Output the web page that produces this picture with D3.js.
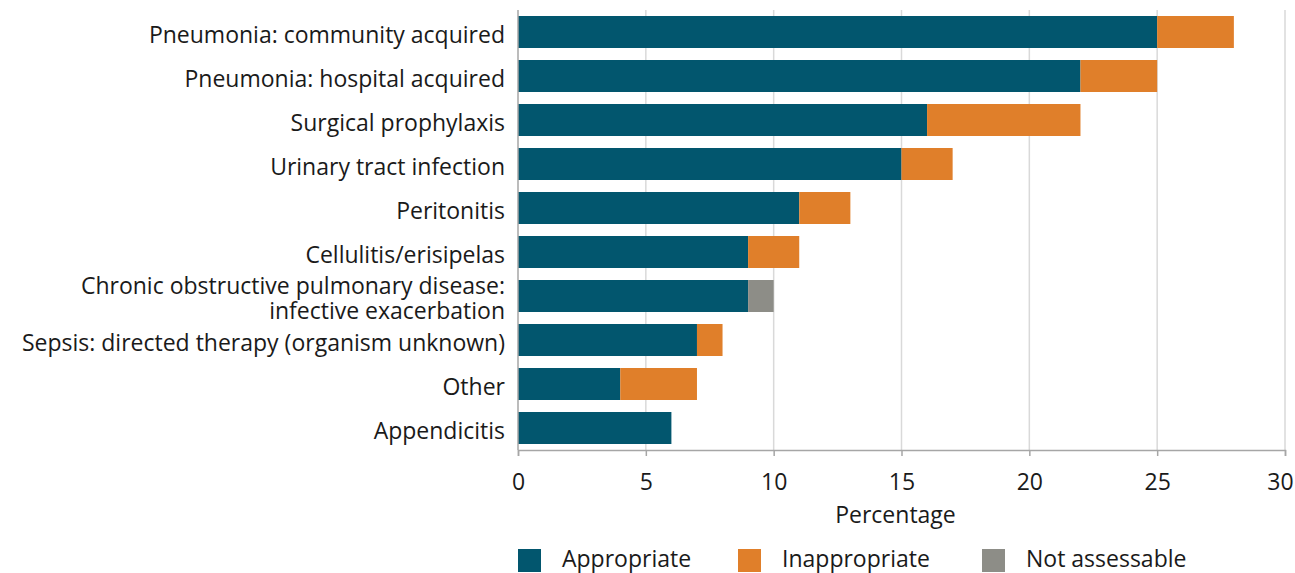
<!DOCTYPE html>
<html>
<head>
<meta charset="utf-8">
<script src="https://cdn.jsdelivr.net/npm/d3@7"></script>
<style>
  body { margin: 0; background: #fff; }
  text { font-family: "Open Sans", sans-serif; fill: #1a1a1a; }
</style>
</head>
<body>
<script>
var categories = [
  "Pneumonia: community acquired",
  "Pneumonia: hospital acquired",
  "Surgical prophylaxis",
  "Urinary tract infection",
  "Peritonitis",
  "Cellulitis/erisipelas",
  "Chronic obstructive pulmonary disease:|infective exacerbation",
  "Sepsis: directed therapy (organism unknown)",
  "Other",
  "Appendicitis"
];
var appropriate   = [25, 22, 16, 15, 11, 9, 9, 7, 4, 6];
var inappropriate = [3, 3, 6, 2, 2, 2, 0, 1, 3, 0];
var notAssessable = [0, 0, 0, 0, 0, 0, 1, 0, 0, 0];
var seriesNames = ["Appropriate", "Inappropriate", "Not assessable"];
var xTicks = [0, 5, 10, 15, 20, 25, 30];

var width = 1295, height = 573,
    mLeft = 518, mRight = 1285, mTop = 10, mBottom = 450,
    fontSize = 23;

var colors = ["#02566e", "#e07f2a", "#8d8d87"];

var rows = categories.map(function(c, i) {
  return { cat: c, Appropriate: appropriate[i], Inappropriate: inappropriate[i], "Not assessable": notAssessable[i] };
});
var stacked = d3.stack().keys(seriesNames)(rows);

var x = d3.scaleLinear().domain([0, 30]).range([mLeft, mRight]);
var y = d3.scaleBand().domain(categories).range([mTop, mBottom])
  .paddingInner(12 / 44).paddingOuter(6 / 44);

var svg = d3.select("body").append("svg")
  .attr("width", width).attr("height", height);

// gridlines
svg.append("g").selectAll("line")
  .data(xTicks.slice(1))
  .enter().append("line")
    .attr("x1", function(d){ return x(d); })
    .attr("x2", function(d){ return x(d); })
    .attr("y1", mTop).attr("y2", mBottom)
    .attr("stroke", "#d9d9d9").attr("stroke-width", 1.5);

// bars
svg.append("g").selectAll("g")
  .data(stacked)
  .enter().append("g")
    .attr("fill", function(d, i){ return colors[i]; })
  .selectAll("rect")
  .data(function(d){ return d; })
  .enter().append("rect")
    .attr("x", function(d){ return x(d[0]); })
    .attr("y", function(d){ return y(d.data.cat); })
    .attr("width", function(d){ return x(d[1]) - x(d[0]); })
    .attr("height", y.bandwidth());

// x axis
var xAxis = d3.axisBottom(x).tickValues(xTicks).tickSize(6).tickPadding(18);
var gx = svg.append("g")
  .attr("transform", "translate(0," + mBottom + ")")
  .call(xAxis);
gx.select(".domain").attr("stroke", "#a6a6a6").attr("stroke-width", 1.5);
gx.selectAll(".tick line").attr("stroke", "#a6a6a6").attr("stroke-width", 1.5);
gx.selectAll(".tick text").attr("font-size", fontSize).attr("fill", "#1a1a1a")
  .style("font-family", "'Open Sans', sans-serif")
  .attr("dx", function(d){ return d === 30 ? -5 : 0; });

// y axis line at 0
svg.append("line")
  .attr("x1", x(0)).attr("x2", x(0))
  .attr("y1", mTop).attr("y2", mBottom)
  .attr("stroke", "#a6a6a6").attr("stroke-width", 1.5);

// category labels
var labels = svg.append("g").selectAll("text")
  .data(categories)
  .enter().append("text")
    .attr("x", 505)
    .attr("y", function(d){ return y(d) + y.bandwidth() / 2; })
    .attr("text-anchor", "end")
    .attr("font-size", fontSize);
labels.each(function(d) {
  var parts = d.split("|");
  var t = d3.select(this);
  parts.forEach(function(p, i) {
    t.append("tspan")
      .attr("x", 505)
      .attr("dy", i === 0 ? (0.48 - (parts.length - 1) * 0.55) + "em" : "1.08em")
      .text(p);
  });
});

// axis title
svg.append("text")
  .attr("x", (mLeft + mRight) / 2 - 6)
  .attr("y", 523)
  .attr("text-anchor", "middle")
  .attr("font-size", fontSize)
  .text("Percentage");

// legend
var legendX = [518, 738, 982];
var lg = svg.append("g").selectAll("g")
  .data(seriesNames)
  .enter().append("g")
    .attr("transform", function(d, i){ return "translate(" + legendX[i] + ",549)"; });
lg.append("rect")
  .attr("width", 23).attr("height", 23)
  .attr("fill", function(d, i){ return colors[i]; });
lg.append("text")
  .attr("x", 44).attr("y", 18)
  .attr("font-size", fontSize)
  .text(function(d){ return d; });
</script>
</body>
</html>
